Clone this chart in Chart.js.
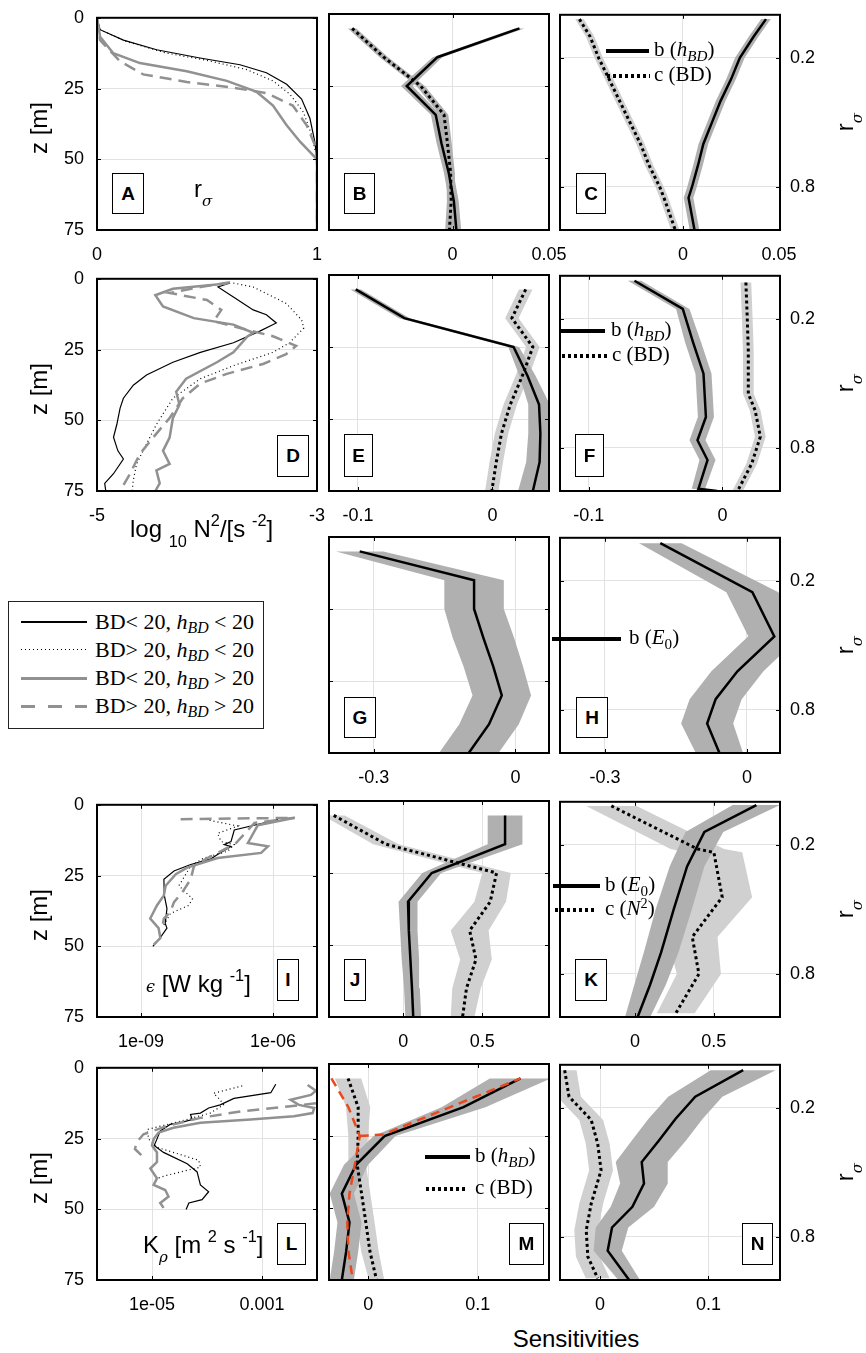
<!DOCTYPE html>
<html>
<head>
<meta charset="utf-8">
<title>Sensitivity profiles</title>
<script src="https://cdn.jsdelivr.net/npm/chart.js@4.4.1/dist/chart.umd.min.js"></script>
<style>
  html, body { margin: 0; padding: 0; background: #fff; }
  body { position: relative; width: 866px; height: 1353px; overflow: hidden; font-family: "Liberation Sans", Arial, sans-serif; color: #000; }
  canvas { position: absolute; }
  .txt { position: absolute; white-space: nowrap; line-height: 1; }
  .sans { font-family: "Liberation Sans", Arial, sans-serif; font-size: 24px; }
  .serif { font-family: "Liberation Serif", "Times New Roman", serif; font-size: 21px; }
  .sb { position: relative; top: 0.6em; font-size: 0.68em; }
  .sp { position: relative; top: -0.7em; font-size: 0.68em; }
  .ssb { position: relative; top: 0.3em; font-size: 0.72em; }
  .gk { font-family: "DejaVu Serif", serif; font-style: italic; }
  .letter { position: absolute; border: 1px solid #000; background: #fff; box-sizing: border-box;
            font: bold 19px "Liberation Sans", Arial, sans-serif; display: flex; align-items: center; justify-content: center; }
  .key { position: absolute; }
  .legend { position: absolute; border: 1px solid #222; background: #fff; box-sizing: border-box; }
  .rot { position: absolute; transform: rotate(-90deg); text-align: center; line-height: 24px; height: 24px; white-space: nowrap; }
</style>
</head>
<body>
<script>
// ---- tick values / labels ----
const zTicks = [0, 25, 50, 75];
const zTickLabels = ['0', '25', '50', '75'];
const rTicks = [0.2, 0.8];
const rTickLabels = ['0.2', '0.8'];
const aTicks = [0, 1], aTickLabels = ['0', '1'];
const dTicks = [-5, -3], dTickLabels = ['-5', '-3'];
const iTicks = [1e-9, 1e-6], iTickLabels = ['1e-09', '1e-06'];
const lTicks = [1e-5, 1e-3], lTickLabels = ['1e-05', '0.001'];
const bcTicks = [0, 0.05], bcTickLabels = ['0', '0.05'];
const efTicks = [-0.1, 0], efTickLabels = ['-0.1', '0'];
const ghTicks = [-0.3, 0], ghTickLabels = ['-0.3', '0'];
const jkTicks = [0, 0.5], jkTickLabels = ['0', '0.5'];
const mnTicks = [0, 0.1], mnTickLabels = ['0', '0.1'];

// ---- panel A: r_sigma profiles ----
const aZBlack = [0, 4.2, 7.9, 11.3, 14.2, 16.6, 19.4, 23.5, 28.7, 35.6, 43.8, 50, 75];
const aBlack = [0, 0.014, 0.12, 0.271, 0.468, 0.65, 0.77, 0.862, 0.93, 0.968, 0.99, 1, 1];
const aZDot = [0, 4.2, 8.4, 12.5, 15, 18.3, 22.3, 27, 33.3, 41.4, 50, 75];
const aDot = [0, 0.014, 0.135, 0.317, 0.498, 0.68, 0.80, 0.877, 0.938, 0.976, 1, 1];
const aZGray = [0, 6.7, 12.5, 16, 18.9, 22.3, 26.2, 31, 38, 43.8, 50, 75];
const aGray = [0, 0.014, 0.074, 0.195, 0.408, 0.59, 0.726, 0.80, 0.862, 0.923, 1, 1];
const aZDash = [0, 7.9, 15.4, 20, 22.7, 24.7, 26.6, 31, 38, 44.9, 50, 75];
const aDash = [0, 0.014, 0.105, 0.21, 0.408, 0.62, 0.77, 0.89, 0.953, 0.99, 1, 1];

// ---- panel D: log10 N^2 ----
const dZBlack = [1.5, 2.9, 6.4, 11, 12.7, 15.6, 18.5, 22.6, 26, 29.5, 34, 37.6, 42.2, 45.7, 51.5, 56, 60.8, 63.7, 68.9, 72.3, 75];
const dBlack = [-3.79, -3.90, -3.76, -3.58, -3.46, -3.37, -3.52, -3.76, -4.06, -4.31, -4.55, -4.67, -4.76, -4.79, -4.82, -4.85, -4.81, -4.76, -4.85, -4.93, -4.92];
const dZDot = [1.5, 2.9, 8.7, 14.5, 17.4, 22.6, 26, 30.7, 35.3, 42.2, 51.5, 58.4, 65.4, 71.2, 75];
const dDot = [-3.76, -3.58, -3.28, -3.14, -3.12, -3.25, -3.40, -3.76, -4.06, -4.31, -4.46, -4.55, -4.64, -4.67, -4.68];
const dZGray = [1.7, 3.5, 5.8, 9.8, 13.9, 16.2, 19.1, 20.3, 26, 29.5, 35.3, 39.9, 44.5, 49.2, 56.1, 60.8, 65.4, 67.7, 72.3, 75];
const dGray = [-3.82, -4.31, -4.47, -4.40, -4.12, -3.76, -3.58, -3.63, -3.76, -3.91, -4.19, -4.28, -4.25, -4.31, -4.34, -4.40, -4.34, -4.46, -4.43, -4.47];
const dZDash = [1.2, 2.9, 5, 7.5, 11, 15, 17.4, 20.3, 23.7, 26.6, 30.1, 33.6, 37, 42.2, 49.2, 56.1, 61.9, 68.9, 75];
const dDash = [-3.79, -4.06, -4.34, -4.0, -3.87, -3.94, -3.70, -3.40, -3.19, -3.28, -3.49, -3.82, -4.06, -4.22, -4.34, -4.49, -4.61, -4.70, -4.79];

// ---- panel I: epsilon (log10 values) ----
const iZBlack = [5.2, 8.9, 13, 14.1, 14.7, 17.6, 19.1, 21.1, 23.4, 26.3, 32, 36.7, 41.9, 43.6, 47.1, 50];
const iBlackLog = [-5.885, -6.88, -6.955, -7.11, -6.955, -7.26, -7.41, -7.87, -8.25, -8.48, -8.47, -8.41, -8.45, -8.41, -8.57, -8.73];
const iZDot = [5.2, 7.5, 10.1, 13, 14.1, 16.4, 18.8, 21.6, 24.5, 28.6, 33.2, 35.5, 38.4, 42.5];
const iDotLog = [-7.53, -6.80, -7.26, -7.18, -6.88, -7.03, -7.57, -7.87, -7.98, -8.14, -7.83, -7.91, -8.33, -8.48];
const iZGray = [4.6, 7.2, 13.5, 14.7, 17, 18.8, 22.2, 24.5, 28.6, 32, 35.5, 40.2, 43.6, 47.1, 49.4];
const iGrayLog = [-5.505, -6.345, -6.57, -6.115, -6.27, -7.26, -7.95, -8.21, -8.44, -8.48, -8.635, -8.79, -8.6, -8.56, -8.71];
const iZDash = [5.1, 4.6, 6.4, 13.5, 16.4, 18.8, 21.6, 26.3, 30.9, 34.4, 37.8, 40.2, 43.6];
const iDashLog = [-8.1, -5.505, -6.42, -6.84, -7.18, -7.49, -7.795, -7.87, -8.06, -8.25, -8.33, -8.48, -8.52];

// ---- panel L: K_rho (log10 values) ----
const lZBlack = [5.8, 8.8, 10.8, 13.1, 14.2, 16, 16.5, 18.3, 19.2, 20, 22.3, 25.2, 27.5, 29.9, 33.9, 36.8, 41.4, 43.8, 46.6, 47.8, 50.1];
const lBlackLog = [-2.75, -2.84, -3.51, -3.76, -3.97, -4.12, -4.30, -4.27, -4.45, -4.67, -4.85, -4.91, -4.96, -4.79, -4.36, -4.18, -4.12, -3.97, -4.09, -4.33, -4.38];
const lZDot = [6.4, 9, 11.3, 13.1, 16, 19.2, 21.8, 25.2, 28.1, 32.7, 35.1, 38, 39.1];
const lDotLog = [-3.36, -3.88, -3.76, -3.70, -3.94, -4.55, -5.09, -5.06, -4.91, -4.15, -4.12, -4.73, -4.91];
const lZGray = [6.1, 8.1, 9.6, 11.3, 13.1, 14.2, 16, 17.1, 18.3, 19.4, 21.2, 22.9, 25.2, 27.5, 29.9, 33.3, 35.6, 39.1, 41.4, 43.2, 45.5, 47.8, 49.5];
const lGrayLog = [-2.17, -2.02, -2.11, -2.48, -2.33, -2.05, -2.08, -2.42, -3.21, -4.12, -4.61, -4.88, -4.97, -5.0, -4.91, -4.91, -5.03, -4.91, -4.97, -4.76, -4.70, -4.85, -4.79];
const lZDash = [12.5, 13.6, 15.4, 17.7, 20.6, 23.5, 26.4, 28.7, 31.6];
const lDashLog = [-2.02, -2.48, -3.39, -4.12, -4.73, -5.155, -5.28, -5.31, -5.155];

// ---- sensitivities vs depth (column 2) ----
const zMid = [5, 15, 25, 35, 45, 55, 65, 75];
const bSolid = [0.0347, -0.0078, -0.0237, -0.0087, -0.0057, -0.002, 0.0007, 0.002];
const bSolidW = [0.0025, 0.0025, 0.003, 0.0025, 0.0025, 0.0025, 0.0025, 0.0025];
const bDot = [-0.052, -0.0356, -0.0165, -0.0044, -0.0026, -0.001, -0.0007, -0.0016];
const bDotW = [0.0022, 0.0022, 0.0022, 0.0022, 0.0022, 0.0022, 0.0022, 0.0022];
const eSolid = [-0.1016, -0.0655, 0.0157, 0.026, 0.0346, 0.0356, 0.035, 0.030];
const eSolidW = [0.004, 0.004, 0.004, 0.006, 0.008, 0.009, 0.01, 0.011];
const eDot = [0.0247, 0.0144, 0.030, 0.0222, 0.0132, 0.0067, 0.0028, -0.0005];
const eDotW = [0.005, 0.005, 0.005, 0.005, 0.005, 0.005, 0.005, 0.005];
const gSolid = [-0.33, -0.0877, -0.0877, -0.068, -0.047, -0.029, -0.056, -0.099];
const gSolidW = [0.05, 0.063, 0.063, 0.065, 0.063, 0.062, 0.063, 0.063];
const jSolid = [0.644, 0.644, 0.18, 0.03, 0.035, 0.045, 0.055, 0.063];
const jSolidW = [0.11, 0.11, 0.06, 0.06, 0.055, 0.055, 0.05, 0.05];
const jDot = [-0.44, -0.11, 0.59, 0.55, 0.42, 0.46, 0.40, 0.375];
const jDotW = [0.07, 0.08, 0.09, 0.1, 0.12, 0.1, 0.09, 0.075];
const mSolid = [0.139, 0.087, 0.015, -0.011, -0.024, -0.017, -0.020, -0.024];
const mSolidW = [0.028, 0.02, 0.01, 0.011, 0.011, 0.011, 0.011, 0.011];
const mDot = [-0.0183, -0.0091, -0.0091, -0.01, -0.006, -0.0021, 0.0016, 0.0077];
const mDotW = [0.012, 0.011, 0.009, 0.008, 0.008, 0.008, 0.008, 0.007];
const mRedA = [-0.0335, -0.018, -0.0076, -0.0122, -0.017, -0.019, -0.018, -0.014];
const mZRedB = [25, 24.5, 5];
const mRedB = [-0.0076, 0.0137, 0.139];

// ---- sensitivities vs r_sigma (column 3) ----
const cR = [0.02, 0.1, 0.2, 0.3, 0.4, 0.5, 0.6, 0.7, 0.8, 0.85, 1.0];
const cSolid = [0.0432, 0.0369, 0.0296, 0.0250, 0.0196, 0.0151, 0.0106, 0.0078, 0.0047, 0.0029, 0.0060];
const cSolidW = [0.0025, 0.0025, 0.0025, 0.0025, 0.0025, 0.0025, 0.0025, 0.0025, 0.0025, 0.0025, 0.0025];
const cDot = [-0.0539, -0.0484, -0.0439, -0.0384, -0.033, -0.0276, -0.0221, -0.0176, -0.0121, -0.0099, -0.004];
const cDotW = [0.0022, 0.0022, 0.0022, 0.0022, 0.0022, 0.0022, 0.0022, 0.0022, 0.0022, 0.0022, 0.0022];
const fSolidR = [0.023, 0.154, 0.309, 0.455, 0.656, 0.764, 0.856, 0.99, 1.0];
const fSolid = [-0.0658, -0.0297, -0.022, -0.0142, -0.0124, -0.0187, -0.0112, -0.018, -0.004];
const fSolidW = [0.005, 0.005, 0.006, 0.006, 0.006, 0.006, 0.006, 0.005, 0.002];
const fDotR = [0.031, 0.193, 0.347, 0.548, 0.625, 0.748, 0.872, 0.998];
const fDot = [0.0175, 0.0185, 0.0193, 0.0193, 0.0244, 0.0283, 0.0219, 0.0115];
const fDotW = [0.004, 0.004, 0.004, 0.004, 0.004, 0.004, 0.004, 0.004];
const hR = [0.025, 0.253, 0.458, 0.62, 0.75, 0.863, 1.0];
const hSolid = [-0.183, 0.0116, 0.058, -0.02, -0.066, -0.084, -0.058];
const hSolidW = [0.045, 0.055, 0.055, 0.055, 0.055, 0.055, 0.05];
const kSolidR = [0.015, 0.14, 0.3, 0.5, 0.7, 0.85, 1.0];
const kSolid = [0.77, 0.44, 0.33, 0.245, 0.165, 0.095, 0.016];
const kSolidW = [0.15, 0.12, 0.11, 0.115, 0.11, 0.1, 0.08];
const kDotR = [0.019, 0.219, 0.235, 0.443, 0.628, 0.8, 0.983];
const kDot = [-0.151, 0.395, 0.5, 0.553, 0.363, 0.405, 0.258];
const kDotW = [0.16, 0.17, 0.18, 0.19, 0.16, 0.14, 0.12];
const nSolidR = [0.025, 0.148, 0.252, 0.352, 0.452, 0.552, 0.66, 0.756, 0.864, 1.0];
const nSolid = [0.132, 0.0878, 0.0695, 0.0543, 0.0384, 0.0405, 0.0298, 0.011, 0.007, 0.0268];
const nSolidW = [0.03, 0.025, 0.025, 0.025, 0.024, 0.022, 0.02, 0.015, 0.013, 0.01];
const nDotR = [0.025, 0.148, 0.256, 0.367, 0.49, 0.645, 0.769, 0.892, 0.992];
const nDot = [-0.0327, -0.0287, -0.0082, -0.0022, 0.0009, -0.0082, -0.0128, -0.0113, -0.0022];
const nDotW = [0.011, 0.011, 0.011, 0.011, 0.011, 0.011, 0.011, 0.011, 0.011];

// ---- layout ----
const COLS = [97, 329, 560];
const ROWS = [14, 275, 537, 801, 1064];
const PW = 220, PH = 216, ML = 60, MR = 50, MT = 20, MB = 40;
const GRID = 'rgb(226,226,226)';
const GRAY = 'rgb(145,145,145)';
const DARK = 'rgb(176,176,176)';
const LIGHT = 'rgb(208,208,208)';
const RED = 'rgb(234,72,30)';

Chart.defaults.font.family = '"Liberation Sans", Arial, sans-serif';
Chart.defaults.font.size = 18;
Chart.defaults.color = '#000';

function pts(xs, ys) { return xs.map((x, i) => ({ x: x, y: ys[i] })); }
function pow10(a) { return a.map(v => Math.pow(10, v)); }

function ln(xs, ys, color, width, dash) {
    return {
        data: pts(xs, ys), showLine: true, fill: false,
        borderColor: color, borderWidth: width, borderDash: dash || [],
        pointRadius: 0, pointHoverRadius: 0, tension: 0
    };
}

// band around a profile: left edge going down, right edge coming back up
function shade(xs, hw, ys, color) {
    const lo = xs.map((x, i) => ({ x: x - hw[i], y: ys[i] }));
    const hi = xs.map((x, i) => ({ x: x + hw[i], y: ys[i] })).reverse();
    return {
        data: lo.concat(hi), showLine: true, fill: 'shape', backgroundColor: color,
        borderColor: 'rgba(0,0,0,0)', borderWidth: 0, pointRadius: 0, pointHoverRadius: 0,
        tension: 0, clip: 0
    };
}

const thinK = (x, y) => ln(x, y, '#000', 1.2);
const thinDot = (x, y) => ln(x, y, '#000', 1.2, [1, 3]);
const graySolid = (x, y) => ln(x, y, GRAY, 2.5);
const grayDash = (x, y) => ln(x, y, GRAY, 2.5, [12, 7]);
const sensSolid = (x, y) => ln(x, y, '#000', 2.5);
const sensDot = (x, y) => ln(x, y, '#000', 3, [3, 3]);

const framePlugin = {
    id: 'frame',
    afterDraw(chart) {
        const { ctx, chartArea: a } = chart;
        const sx = chart.scales.x, sy = chart.scales.y;
        ctx.save();
        ctx.strokeStyle = '#000';
        ctx.lineWidth = 1;
        ctx.beginPath();
        sx.ticks.forEach(t => {
            const p = Math.round(sx.getPixelForValue(t.value)) + 0.5;
            ctx.moveTo(p, a.top); ctx.lineTo(p, a.top + 4);
            ctx.moveTo(p, a.bottom); ctx.lineTo(p, a.bottom - 4);
        });
        sy.ticks.forEach(t => {
            const p = Math.round(sy.getPixelForValue(t.value)) + 0.5;
            ctx.moveTo(a.left, p); ctx.lineTo(a.left + 4, p);
            ctx.moveTo(a.right, p); ctx.lineTo(a.right - 4, p);
        });
        ctx.stroke();
        ctx.lineWidth = 2;
        ctx.strokeRect(a.left, a.top, a.right - a.left, a.bottom - a.top);
        ctx.restore();
    }
};

function panel(col, row, o) {
    const w = ML + PW + MR, h = MT + PH + MB;
    const cv = document.createElement('canvas');
    cv.width = w; cv.height = h;
    cv.style.width = w + 'px'; cv.style.height = h + 'px';
    cv.style.left = (COLS[col] - ML) + 'px';
    cv.style.top = (ROWS[row] - MT) + 'px';
    document.body.appendChild(cv);
    const onRight = col === 2;
    const yTicks = onRight ? rTicks : zTicks;
    const yLabels = onRight ? rTickLabels : zTickLabels;
    new Chart(cv, {
        type: 'scatter',
        data: { datasets: o.sets.slice().reverse() },
        options: {
            responsive: false,
            animation: false,
            events: [],
            layout: { padding: { top: MT, bottom: 0, left: onRight ? ML : 0, right: onRight ? 0 : MR } },
            plugins: { legend: { display: false }, tooltip: { enabled: false } },
            scales: {
                x: {
                    type: o.log ? 'logarithmic' : 'linear',
                    position: 'bottom',
                    min: o.min, max: o.max,
                    afterFit: s => { s.height = MB; },
                    afterBuildTicks: s => { s.ticks = o.ticks.map(v => ({ value: v })); },
                    ticks: { callback: (v, i) => o.labels[i], padding: 14, maxRotation: 0, minRotation: 0, autoSkip: false },
                    grid: { color: GRID, drawTicks: false },
                    border: { display: false }
                },
                y: {
                    type: 'linear',
                    position: onRight ? 'right' : 'left',
                    reverse: true,
                    min: 0, max: onRight ? 1 : 75,
                    afterFit: s => { s.width = onRight ? MR : ML; },
                    afterBuildTicks: s => { s.ticks = yTicks.map(v => ({ value: v })); },
                    ticks: { display: col !== 1, callback: (v, i) => yLabels[i], padding: onRight ? 10 : 13, autoSkip: false },
                    grid: { color: GRID, drawTicks: false },
                    border: { display: false }
                }
            }
        },
        plugins: [framePlugin]
    });
}

// row 1
panel(0, 0, { min: 0, max: 1, ticks: aTicks, labels: aTickLabels, sets: [
    thinK(aBlack, aZBlack), thinDot(aDot, aZDot), grayDash(aDash, aZDash), graySolid(aGray, aZGray)
]});
panel(1, 0, { min: -0.064, max: 0.05, ticks: bcTicks, labels: bcTickLabels, sets: [
    shade(bDot, bDotW, zMid, DARK), shade(bSolid, bSolidW, zMid, DARK),
    sensDot(bDot, zMid), sensSolid(bSolid, zMid)
]});
panel(2, 0, { min: -0.064, max: 0.0505, ticks: bcTicks, labels: bcTickLabels, sets: [
    shade(cDot, cDotW, cR, LIGHT), shade(cSolid, cSolidW, cR, DARK),
    sensDot(cDot, cR), sensSolid(cSolid, cR)
]});

// row 2
panel(0, 1, { min: -5, max: -3, ticks: dTicks, labels: dTickLabels, sets: [
    thinK(dBlack, dZBlack), thinDot(dDot, dZDot), grayDash(dDash, dZDash), graySolid(dGray, dZGray)
]});
panel(1, 1, { min: -0.1215, max: 0.042, ticks: efTicks, labels: efTickLabels, sets: [
    shade(eDot, eDotW, zMid, LIGHT), shade(eSolid, eSolidW, zMid, DARK),
    sensDot(eDot, zMid), sensSolid(eSolid, zMid)
]});
panel(2, 1, { min: -0.1215, max: 0.043, ticks: efTicks, labels: efTickLabels, sets: [
    shade(fDot, fDotW, fDotR, LIGHT), shade(fSolid, fSolidW, fSolidR, DARK),
    sensDot(fDot, fDotR), sensSolid(fSolid, fSolidR)
]});

// row 3
panel(1, 2, { min: -0.395, max: 0.071, ticks: ghTicks, labels: ghTickLabels, sets: [
    shade(gSolid, gSolidW, zMid, DARK), sensSolid(gSolid, zMid)
]});
panel(2, 2, { min: -0.395, max: 0.07, ticks: ghTicks, labels: ghTickLabels, sets: [
    shade(hSolid, hSolidW, hR, DARK), sensSolid(hSolid, hR)
]});

// row 4
panel(0, 3, { log: true, min: 1e-10, max: 1e-5, ticks: iTicks, labels: iTickLabels, sets: [
    thinK(pow10(iBlackLog), iZBlack), thinDot(pow10(iDotLog), iZDot),
    grayDash(pow10(iDashLog), iZDash), graySolid(pow10(iGrayLog), iZGray)
]});
panel(1, 3, { min: -0.47, max: 0.922, ticks: jkTicks, labels: jkTickLabels, sets: [
    shade(jDot, jDotW, zMid, LIGHT), shade(jSolid, jSolidW, zMid, DARK),
    sensDot(jDot, zMid), sensSolid(jSolid, zMid)
]});
panel(2, 3, { min: -0.477, max: 0.92, ticks: jkTicks, labels: jkTickLabels, sets: [
    shade(kDot, kDotW, kDotR, LIGHT), shade(kSolid, kSolidW, kSolidR, DARK),
    sensDot(kDot, kDotR), sensSolid(kSolid, kSolidR)
]});

// row 5
panel(0, 4, { log: true, min: 1e-6, max: 1e-2, ticks: lTicks, labels: lTickLabels, sets: [
    thinK(pow10(lBlackLog), lZBlack), thinDot(pow10(lDotLog), lZDot),
    grayDash(pow10(lDashLog), lZDash), graySolid(pow10(lGrayLog), lZGray)
]});
panel(1, 4, { min: -0.0357, max: 0.165, ticks: mnTicks, labels: mnTickLabels, sets: [
    shade(mDot, mDotW, zMid, LIGHT), shade(mSolid, mSolidW, zMid, DARK),
    sensDot(mDot, zMid), sensSolid(mSolid, zMid),
    ln(mRedA, zMid, RED, 2.5, [9, 6]), ln(mRedB, mZRedB, RED, 2.5, [9, 6])
]});
panel(2, 4, { min: -0.037, max: 0.166, ticks: mnTicks, labels: mnTickLabels, sets: [
    shade(nDot, nDotW, nDotR, LIGHT), shade(nSolid, nSolidW, nSolidR, DARK),
    sensDot(nDot, nDotR), sensSolid(nSolid, nSolidR)
]});

// ---- text and keys ----
function el(cls, html, css) {
    const d = document.createElement('div');
    d.className = cls;
    if (html) d.innerHTML = html;
    d.style.cssText += css;
    document.body.appendChild(d);
    return d;
}
// sans 24px: baseline 20px below top; serif 21px: 17.6px below top
function sansAt(html, left, baseline) { return el('txt sans', html, `left:${left}px;top:${baseline - 20}px;`); }
function serifAt(html, left, baseline) { return el('txt serif', html, `left:${left}px;top:${baseline - 17.6}px;`); }

// axis titles
[0, 1, 3, 4].forEach(r => {
    el('rot sans', 'z [m]', `left:${39 - 50}px;top:${ROWS[r] + 114 - 12}px;width:100px;`);
});
[0, 1, 2, 3, 4].forEach(r => {
    el('rot sans', 'r<span class="sb gk" style="font-size:15px">σ</span>', `left:${845 - 40}px;top:${ROWS[r] + 108 - 12}px;width:80px;`);
});
sansAt('r<span class="sb gk" style="font-size:15px">σ</span>', 194, 197);
sansAt('log <span class="sb">10</span> N<span class="sp">2</span>/[s <span class="sp">-2</span>]', 130, 537);
sansAt('<span class="gk" style="font-size:16px">ϵ</span> [W kg <span class="sp">-1</span>]', 146, 992);
sansAt('K<span class="sb gk" style="font-size:15px">ρ</span> [m <span class="sp">2</span> s <span class="sp">-1</span>]', 143, 1253);
el('txt sans', 'Sensitivities', `left:476px;top:${1347 - 20}px;width:200px;text-align:center;`);

// panel letters
const letterBoxes = [
    ['A', 112, 173, 32, 41], ['B', 344, 173, 31, 41], ['C', 576, 173, 30, 41],
    ['D', 277, 435, 32, 42], ['E', 344, 434, 29, 43], ['F', 575, 434, 29, 43],
    ['G', 344, 697, 32, 41], ['H', 576, 697, 32, 41],
    ['I', 277, 959, 22, 42], ['J', 344, 959, 22, 42], ['K', 575, 959, 32, 42],
    ['L', 277, 1223, 29, 42], ['M', 509, 1223, 35, 42], ['N', 742, 1223, 31, 42]
];
letterBoxes.forEach(([t, x, y, w, h]) => {
    el('letter', t, `left:${x}px;top:${y}px;width:${w}px;height:${h}px;`);
});

// inline keys
const SOLID_KEY = 'background:#000;height:4px;';
const DOT_KEY = 'background:repeating-linear-gradient(90deg,#000 0 3px,transparent 3px 6px);height:4px;';
function key(x1, x2, y, style, html, tx) {
    el('key', '', `left:${x1}px;top:${y - 2}px;width:${x2 - x1}px;${style}`);
    serifAt(html, tx, y + 6);
}
const hBD = '<i>h</i><span class="ssb"><i>BD</i></span>';
key(606, 649, 51, SOLID_KEY, 'b (' + hBD + ')', 654);
key(607, 650, 76, DOT_KEY, 'c (BD)', 654);
key(560, 605, 331, SOLID_KEY, 'b (' + hBD + ')', 611);
key(562, 609, 356, DOT_KEY, 'c (BD)', 612);
key(552, 621, 639, SOLID_KEY, 'b (<i>E</i><span class="ssb">0</span>)', 629);
key(553, 600, 886, SOLID_KEY, 'b (<i>E</i><span class="ssb">0</span>)', 605);
key(555, 597, 910, DOT_KEY, 'c (<i>N</i><span class="sp" style="top:-0.5em">2</span>)', 605);
key(425, 470, 1157, SOLID_KEY, 'b (' + hBD + ')', 475);
key(426, 467, 1189, DOT_KEY, 'c (BD)', 475);

// main legend
el('legend', '', 'left:8px;top:601px;width:256px;height:128px;');
const legendRows = [
    ['background:#000;height:2px;', 'BD&lt; 20, ' + hBD + ' &lt; 20'],
    ['background:repeating-linear-gradient(90deg,#000 0 1px,transparent 1px 4px);height:1px;', 'BD&gt; 20, ' + hBD + ' &lt; 20'],
    [`background:${GRAY};height:3px;`, 'BD&lt; 20, ' + hBD + ' &gt; 20'],
    [`background:repeating-linear-gradient(90deg,${GRAY} 0 14px,transparent 14px 27px);height:3px;`, 'BD&gt; 20, ' + hBD + ' &gt; 20']
];
legendRows.forEach(([style, html], i) => {
    const y = 622 + i * 28;
    el('key', '', `left:21px;top:${y - 1}px;width:66px;${style}`);
    el('txt serif', html, `left:95px;top:${y + 7 - 18.4}px;font-size:22px;`);
});
</script>
</body>
</html>
